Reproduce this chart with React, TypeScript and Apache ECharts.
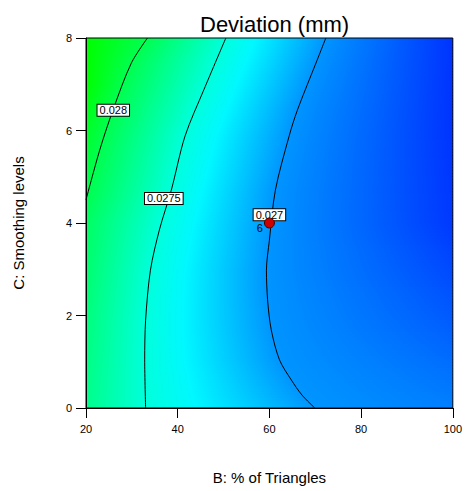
import React, { useEffect, useRef } from "react";
import * as echarts from "echarts";

// ---------- data ----------
const xTicks = [20, 40, 60, 80, 100];
const yTicks = [0, 2, 4, 6, 8];

// contour lines: [B (% of triangles), C (smoothing levels)]
const contour0280: number[][] = [
  [33.4, 8], [29.9, 7.46], [26.05, 6.49], [23.0, 5.58], [20, 4.5],
];
const contour0275: number[][] = [
  [50.5, 8], [45.7, 6.88], [41.6, 5.88], [38.6, 4.71], [36.0, 3.85],
  [34.05, 2.98], [33.0, 1.9], [32.8, 1.04], [33.0, 0],
];
const contour0270: number[][] = [
  [72.3, 8], [70.4, 7.52], [66.1, 6.44], [64.3, 5.88], [61.3, 4.71],
  [60.0, 3.63], [59.35, 2.98], [59.6, 2.34], [60.4, 1.69], [62.2, 1.04],
  [64.75, 0.61], [67.1, 0.28], [69.9, 0],
];
const contourLevels = [0.028, 0.0275, 0.027];
const contourLabelPos: number[][] = [
  [25.95, 6.44], [36.97, 4.53], [60.0, 4.18],
];
const designPoint = [60, 4];
const designPointCount = "6";

// colour-field edges (0 = blue, 1 = cyan, 2 = green) at C rows
const edgeRowsC = [0, 2, 4, 6, 8];
const leftEdgeT = [1.45, 1.52, 1.62, 1.85, 2.15];
const rightEdgeT = [0.5, 0.35, 0.22, 0.2, 0.2];
const cyanLevel = 0.02735;

// ---------- style ----------
const FONT = 'Arial, "Liberation Sans", sans-serif';
const GRID = { left: 86, top: 38, width: 370, height: 370 };
const zBlue = 0.02647;
const zPerT = 0.000905;

function tOf(z: number) {
  return (z - zBlue) / zPerT;
}
function tColor(t: number) {
  const tt = Math.max(0, Math.min(2, t));
  if (tt <= 1) return `rgb(0,${Math.round(255 * tt)},255)`;
  return `rgb(0,255,${Math.round(255 * (2 - tt))})`;
}
function interpRow(rows: number[], vals: number[], c: number) {
  if (c <= rows[0]) return vals[0];
  for (let i = 0; i < rows.length - 1; i++) {
    if (c >= rows[i] && c <= rows[i + 1]) {
      const f = (c - rows[i]) / (rows[i + 1] - rows[i]);
      return vals[i] + f * (vals[i + 1] - vals[i]);
    }
  }
  return vals[vals.length - 1];
}
function bAt(contour: number[][], c: number): number | null {
  for (let i = 0; i < contour.length - 1; i++) {
    const [b1, c1] = contour[i];
    const [b2, c2] = contour[i + 1];
    const lo = Math.min(c1, c2), hi = Math.max(c1, c2);
    if (c >= lo && c <= hi) {
      const f = c2 === c1 ? 0 : (c - c1) / (c2 - c1);
      return b1 + f * (b2 - b1);
    }
  }
  return null;
}

export default function App() {
  const ref = useRef<HTMLDivElement>(null);
  useEffect(() => {
    if (!ref.current) return;
    const chart = echarts.init(ref.current, null, { renderer: "svg" });
    const contours = [contour0280, contour0275, contour0270];
    const option: any = {
      animation: false,
      title: {
        text: "Deviation (mm)",
        left: 195,
        top: 8,
        textStyle: { fontFamily: FONT, fontSize: 22, fontWeight: "normal", color: "#000" },
      },
      grid: {
        ...GRID,
        show: true,
        borderColor: "#000",
        borderWidth: 1,
        backgroundColor: "transparent",
      },
      xAxis: {
        type: "value",
        min: xTicks[0],
        max: xTicks[xTicks.length - 1],
        interval: xTicks[1] - xTicks[0],
        name: "B: % of Triangles",
        nameLocation: "middle",
        nameGap: 62,
        nameTextStyle: { fontFamily: FONT, fontSize: 15, color: "#000" },
        axisLine: { show: true, lineStyle: { color: "#000", width: 1 } },
        axisTick: { show: true, length: 10, lineStyle: { color: "#000" } },
        axisLabel: { fontFamily: FONT, fontSize: 11, color: "#000", margin: 15 },
        splitLine: { show: false },
      },
      yAxis: {
        type: "value",
        min: yTicks[0],
        max: yTicks[yTicks.length - 1],
        interval: yTicks[1] - yTicks[0],
        name: "C: Smoothing levels",
        nameLocation: "middle",
        nameRotate: 90,
        nameGap: 60,
        nameTextStyle: { fontFamily: FONT, fontSize: 15, color: "#000" },
        axisLine: { show: true, lineStyle: { color: "#000", width: 1 } },
        axisTick: { show: true, length: 10, lineStyle: { color: "#000" } },
        axisLabel: { fontFamily: FONT, fontSize: 11, color: "#000", margin: 14 },
        splitLine: { show: false },
      },
      series: [
        ...contours.map((c, i) => ({
          type: "line",
          name: String(contourLevels[i]),
          data: c,
          smooth: 0.3,
          showSymbol: false,
          symbol: "none",
          lineStyle: { color: "#000", width: 1 },
          z: 3,
          silent: true,
        })),
        {
          type: "scatter",
          data: contourLabelPos.map((p, i) => ({ value: p, name: String(contourLevels[i]) })),
          symbolSize: 0,
          z: 4,
          silent: true,
          itemStyle: { opacity: 1 },
          label: {
            show: true,
            position: "inside",
            formatter: (p: any) => p.name,
            fontFamily: FONT,
            fontSize: 11,
            color: "#000",
            opacity: 1,
            backgroundColor: "#ffffff",
            borderColor: "#000",
            borderWidth: 1,
            padding: [0, 2, 0, 2],
          },
        },
        {
          type: "scatter",
          data: [designPoint],
          symbolSize: 10,
          z: 5,
          silent: true,
          itemStyle: { color: "#cc0000", borderColor: "#400000", borderWidth: 1, opacity: 1 },
          label: {
            show: true,
            position: "left",
            distance: 0,
            offset: [-1, 5],
            formatter: designPointCount,
            fontFamily: FONT,
            fontSize: 11,
            color: "#000",
          },
        },
      ],
    };
    chart.setOption(option);

    // colour field beneath the contours
    const [x0] = chart.convertToPixel({ gridIndex: 0 }, [xTicks[0], yTicks[0]]) as number[];
    const [x1] = chart.convertToPixel({ gridIndex: 0 }, [xTicks[xTicks.length - 1], yTicks[0]]) as number[];
    const yTop = (chart.convertToPixel({ gridIndex: 0 }, [xTicks[0], yTicks[yTicks.length - 1]]) as number[])[1];
    const yBot = (chart.convertToPixel({ gridIndex: 0 }, [xTicks[0], yTicks[0]]) as number[])[1];
    const bMin = xTicks[0], bMax = xTicks[xTicks.length - 1];
    const step = 3;
    const elements: any[] = [];
    for (let py = yTop; py < yBot; py += step) {
      const h = Math.min(step + 1, yBot - py);
      const c = (chart.convertFromPixel({ gridIndex: 0 }, [x0, py + step / 2]) as number[])[1];
      const stops: { offset: number; color: string }[] = [];
      stops.push({ offset: 0, color: tColor(interpRow(edgeRowsC, leftEdgeT, c)) });
      const pts: [number, number][] = [];
      contours.forEach((ct, i) => {
        const b = bAt(ct, c);
        if (b !== null) pts.push([b, tOf(contourLevels[i])]);
      });
      const b275 = bAt(contour0275, c);
      const b270 = bAt(contour0270, c);
      if (b275 !== null && b270 !== null) {
        const f = (contourLevels[1] - cyanLevel) / (contourLevels[1] - contourLevels[2]);
        pts.push([b275 + f * (b270 - b275), tOf(cyanLevel)]);
      }
      pts.sort((a, b) => a[0] - b[0]);
      pts.forEach(([b, t]) => {
        const off = (b - bMin) / (bMax - bMin);
        if (off > 0 && off < 1) stops.push({ offset: off, color: tColor(t) });
      });
      stops.push({ offset: 1, color: tColor(interpRow(edgeRowsC, rightEdgeT, c)) });
      elements.push({
        type: "rect",
        silent: true,
        z: -10,
        shape: { x: x0, y: py, width: x1 - x0, height: h },
        style: { fill: new echarts.graphic.LinearGradient(0, 0, 1, 0, stops) },
      });
    }
    chart.setOption({ graphic: { elements } });

    return () => chart.dispose();
  }, []);
  return (
    <div
      ref={ref}
      style={{ position: "absolute", left: 0, top: 0, width: 465, height: 491 }}
    />
  );
}
